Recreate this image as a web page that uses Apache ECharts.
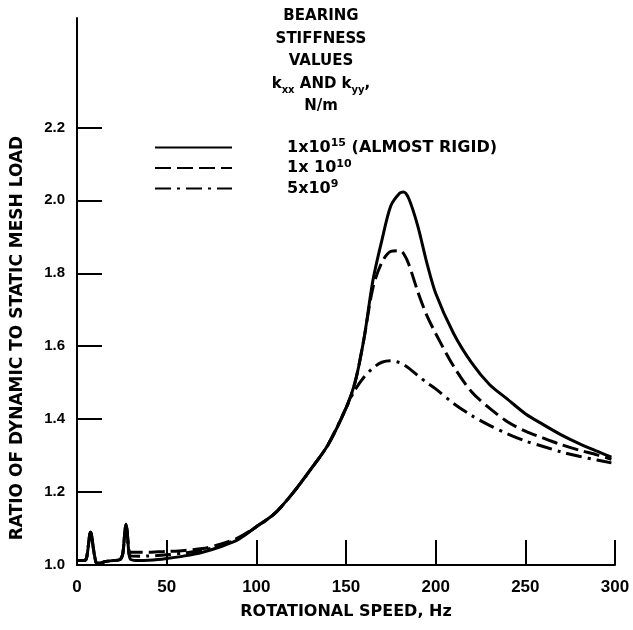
<!doctype html>
<html lang="en">
<head>
  <meta charset="utf-8">
  <title>Dynamic load ratio vs rotational speed</title>
  <script src="https://cdn.jsdelivr.net/npm/echarts@6/dist/echarts.min.js"></script>
  <style>
    html, body { margin: 0; padding: 0; background: #fff; }
    #chart { width: 633px; height: 630px; }
  </style>
</head>
<body>
  <div id="chart"></div>
  <script>
    // rotational speed, Hz (shared by all three curves)
    var speeds = [0, 3, 5, 6, 7, 7.5, 8, 9, 10, 11, 13, 16, 20, 24, 25.5, 26.5, 27.3, 28, 29, 30, 35, 40, 45, 50,
      60, 70, 80, 90, 100, 110, 120, 130, 140, 150, 155, 160, 165, 170, 175, 180, 182, 185, 190, 195, 200,
      210, 220, 230, 240, 250, 260, 270, 280, 290, 298];

    // ratio of dynamic to static mesh load
    var rigid = [1.012, 1.012, 1.015, 1.04, 1.08, 1.09, 1.085, 1.05, 1.02, 1.005, 1.005, 1.01, 1.012, 1.015, 1.03, 1.08, 1.112, 1.09, 1.03, 1.015, 1.012, 1.013, 1.015, 1.018,
      1.025, 1.035, 1.05, 1.07, 1.105, 1.14, 1.195, 1.26, 1.33, 1.43, 1.50, 1.62, 1.78, 1.89, 1.985, 2.02, 2.023, 2.005, 1.93, 1.83, 1.745,
      1.635, 1.555, 1.495, 1.455, 1.415, 1.385, 1.357, 1.333, 1.312, 1.296];
    var k1e10 = [1.012, 1.012, 1.015, 1.04, 1.08, 1.09, 1.085, 1.05, 1.02, 1.005, 1.005, 1.01, 1.012, 1.015, 1.03, 1.08, 1.112, 1.09, 1.04, 1.035, 1.035, 1.035, 1.036, 1.037,
      1.04, 1.045, 1.057, 1.075, 1.105, 1.14, 1.195, 1.26, 1.33, 1.43, 1.50, 1.62, 1.76, 1.83, 1.86, 1.862, 1.855, 1.825, 1.75, 1.685, 1.635,
      1.545, 1.475, 1.43, 1.393, 1.367, 1.348, 1.33, 1.315, 1.302, 1.29];
    var k5e9 = [1.012, 1.012, 1.015, 1.04, 1.08, 1.09, 1.085, 1.05, 1.02, 1.005, 1.005, 1.01, 1.012, 1.015, 1.03, 1.08, 1.112, 1.09, 1.03, 1.025, 1.024, 1.025, 1.026, 1.028,
      1.033, 1.04, 1.053, 1.072, 1.105, 1.14, 1.195, 1.26, 1.33, 1.43, 1.48, 1.515, 1.54, 1.556, 1.56, 1.555, 1.55, 1.54, 1.52, 1.50, 1.483,
      1.443, 1.41, 1.383, 1.36, 1.34, 1.325, 1.31, 1.298, 1.288, 1.28];

    var seriesNames = ['rigid', 'k1e10', 'k5e9'];
    var legendLabels = ['1x10{sup|15} (ALMOST RIGID)', '1x 10{sup|10}', '5x10{sup|9}'];
    var yTicks = [1.0, 1.2, 1.4, 1.6, 1.8, 2.0, 2.2];

    function pairs(ys) {
      return speeds.map(function (x, i) { return [x, ys[i]]; });
    }

    var font = '"Liberation Sans", Arial, sans-serif';
    var wide = '"DejaVu Sans", sans-serif';
    var chart = echarts.init(document.getElementById('chart'));

    var option = {
      animation: false,
      backgroundColor: '#fff',
      textStyle: { fontFamily: font },
      title: {
        text: 'BEARING\nSTIFFNESS\nVALUES\nk{sub|xx} AND k{sub|yy},\nN/m',
        left: 316,
        top: 0,
        textAlign: 'center',
        textStyle: {
          fontFamily: wide,
          fontWeight: 'bold',
          fontSize: 15,
          lineHeight: 22.5,
          color: '#000',
          rich: {
            sub: { fontFamily: wide, fontSize: 10, fontWeight: 'bold', verticalAlign: 'bottom', lineHeight: 22.5, padding: [6, 0, 0, 0] }
          }
        }
      },
      legend: {
        orient: 'vertical',
        left: 149,
        top: 133,
        itemWidth: 77,
        itemHeight: 14,
        itemGap: 3,
        data: seriesNames,
        itemStyle: { opacity: 0 },
        formatter: function (name) {
          return legendLabels[seriesNames.indexOf(name)];
        },
        textStyle: {
          fontFamily: wide,
          fontWeight: 'bold',
          fontSize: 16,
          color: '#000',
          padding: [0, 0, 0, 50],
          rich: {
            sup: { fontFamily: wide, fontSize: 11, fontWeight: 'bold', verticalAlign: 'top', padding: [0, 0, 8, 0] }
          }
        }
      },
      grid: { left: 77, right: 18, top: 18, bottom: 65 },
      xAxis: {
        type: 'value',
        min: 0,
        max: 300,
        interval: 50,
        name: 'ROTATIONAL SPEED, Hz',
        nameLocation: 'middle',
        nameGap: 39,
        nameTextStyle: { fontFamily: wide, fontWeight: 'bold', fontSize: 16, color: '#000' },
        axisLine: { lineStyle: { color: '#000', width: 2 } },
        axisTick: { inside: true, length: 25, lineStyle: { color: '#000', width: 2 } },
        axisLabel: { fontFamily: font, fontWeight: 'bold', fontSize: 17, color: '#000', margin: 14 },
        splitLine: { show: false }
      },
      yAxis: {
        type: 'value',
        min: 1.0,
        max: 2.5,
        interval: 0.2,
        axisLine: { lineStyle: { color: '#000', width: 2 } },
        axisTick: { inside: true, length: 25, customValues: yTicks, lineStyle: { color: '#000', width: 2 } },
        axisLabel: {
          customValues: yTicks,
          fontFamily: font, fontWeight: 'bold', fontSize: 15, color: '#000', margin: 12,
          formatter: function (v) { return v.toFixed(1); }
        },
        splitLine: { show: false }
      },
      graphic: [{
        type: 'text',
        x: 18,
        y: 338,
        rotation: Math.PI / 2,
        style: {
          text: 'RATIO OF DYNAMIC TO STATIC MESH LOAD',
          font: 'bold 17px ' + wide,
          fill: '#000',
          textAlign: 'center',
          textVerticalAlign: 'middle'
        }
      }],
      series: [
        {
          name: 'rigid', type: 'line', data: pairs(rigid), smooth: 0.3, symbol: 'none',
          lineStyle: { color: '#000', width: 3, type: 'solid' }, itemStyle: { color: '#000' }
        },
        {
          name: 'k1e10', type: 'line', data: pairs(k1e10), smooth: 0.3, symbol: 'none',
          lineStyle: { color: '#000', width: 3, type: [16, 6] }, itemStyle: { color: '#000' }
        },
        {
          name: 'k5e9', type: 'line', data: pairs(k5e9), smooth: 0.3, symbol: 'none',
          lineStyle: { color: '#000', width: 3, type: [16, 6, 3, 6] }, itemStyle: { color: '#000' }
        }
      ]
    };
    chart.setOption(option);
  </script>
</body>
</html>
